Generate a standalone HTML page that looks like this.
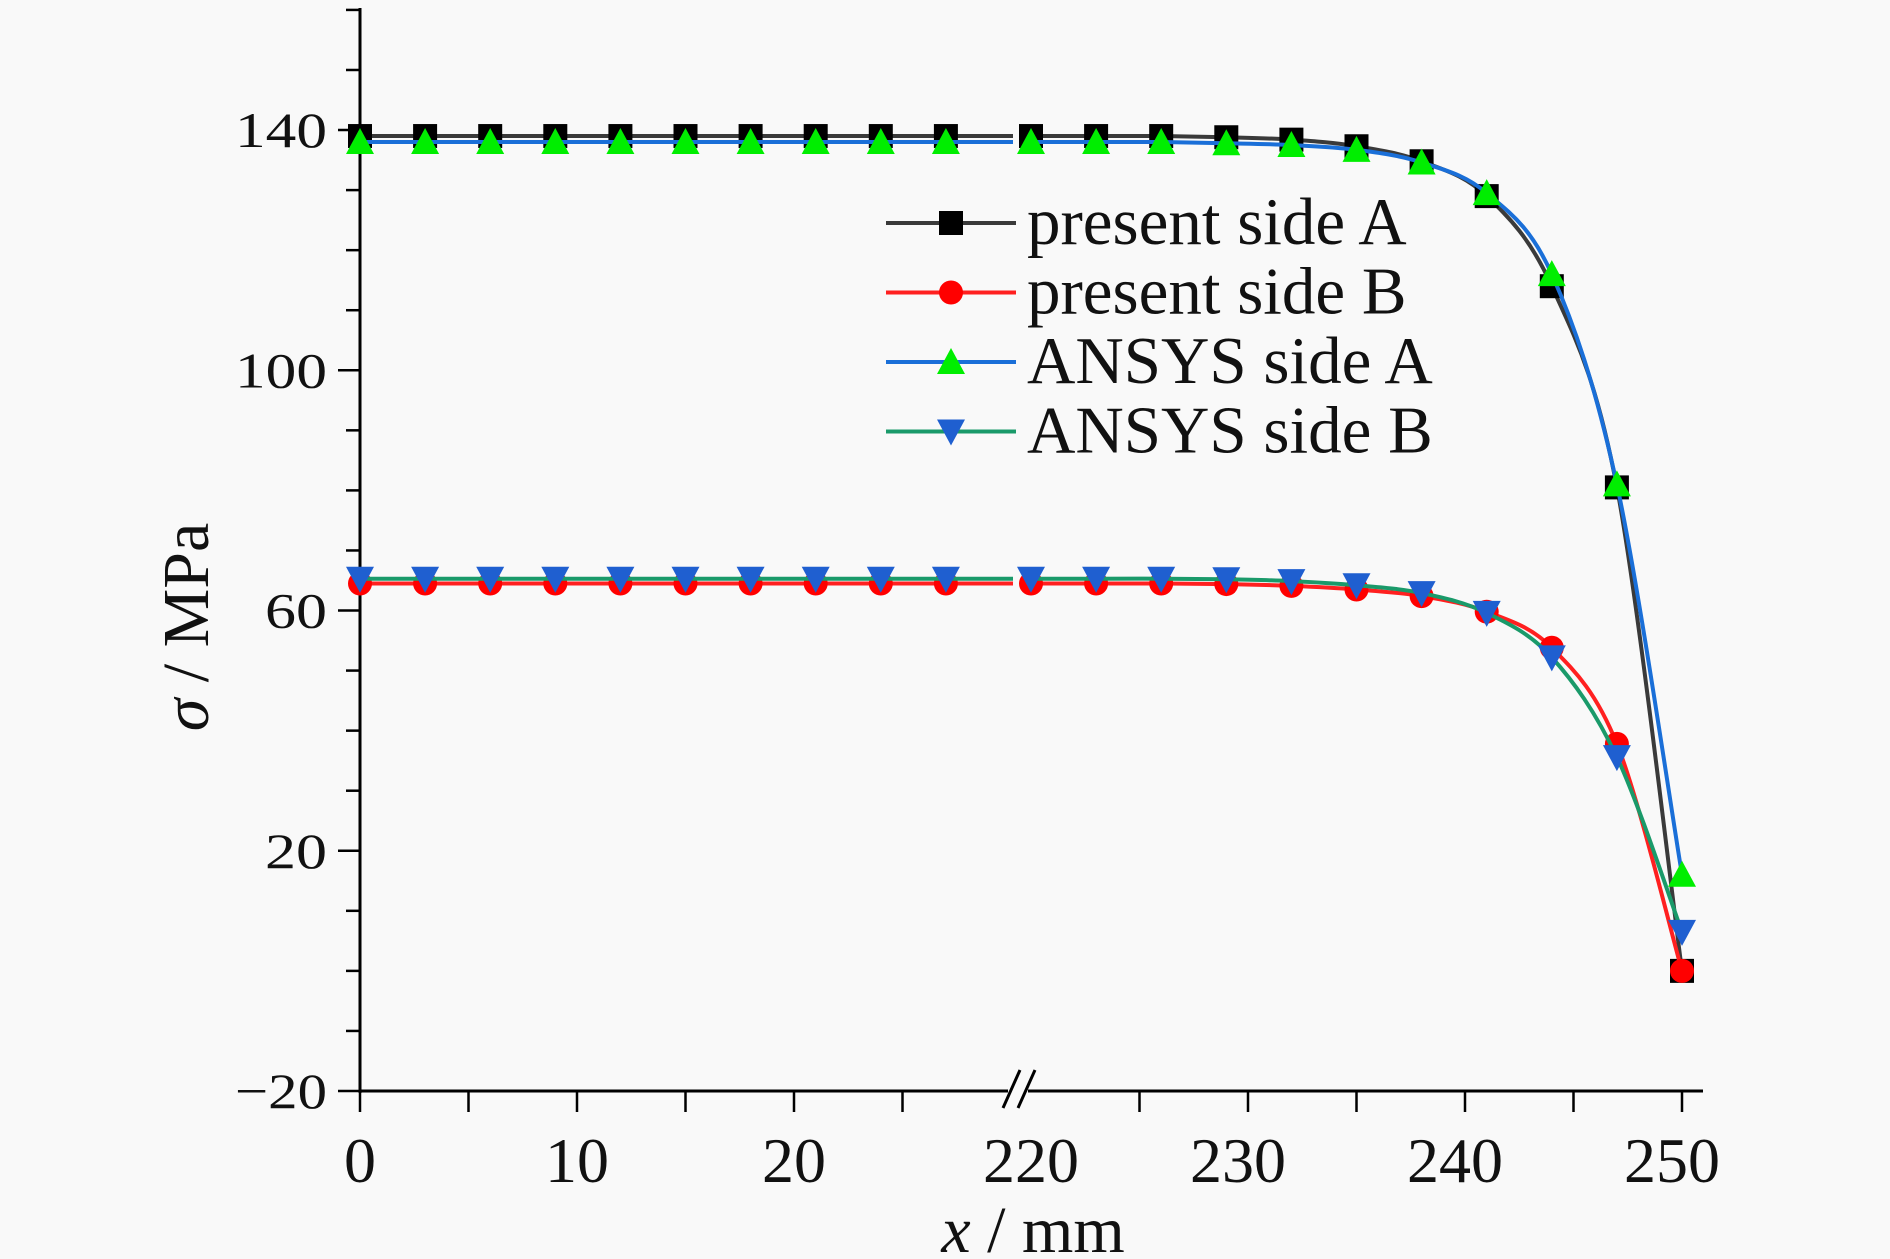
<!DOCTYPE html>
<html><head><meta charset="utf-8"><style>
html,body{margin:0;padding:0;background:#f9f9f9;}
svg{display:block;font-family:"Liberation Serif",serif;}
</style></head><body>
<svg id="chart" width="1890" height="1259" viewBox="0 0 1890 1259" xmlns="http://www.w3.org/2000/svg">
<rect width="1890" height="1259" fill="#f9f9f9"/>
<g id="axes"></g>
<g id="series"></g>
<g id="legend"></g>
</svg>
<script>
const xLeft = [0,3,6,9,12,15,18,21,24,27];
const xRight = [220,223,226,229,232,235,238,241,244,247,250];
const presentA_L = [139,139,139,139,139,139,139,139,139,139];
const presentA_R = [139,139,139,138.8,138.4,137.3,134.8,129,114,80.5,0];
const presentB_L = [64.5,64.5,64.5,64.5,64.5,64.5,64.5,64.5,64.5,64.5];
const presentB_R = [64.5,64.5,64.5,64.4,64.1,63.5,62.4,59.8,53.8,37.8,0];
const ansysA_L = [138,138,138,138,138,138,138,138,138,138];
const ansysA_R = [138,138,138,137.8,137.5,136.7,134.6,129.5,116,81,16];
const ansysB_L = [65.3,65.3,65.3,65.3,65.3,65.3,65.3,65.3,65.3,65.3];
const ansysB_R = [65.3,65.3,65.3,65.2,64.9,64.2,62.9,59.6,52.2,35.6,6.5];
const yTicks = [-20,20,60,100,140];
const xTickLabelsL = [0,10,20];
const xTickLabelsR = [220,230,240,250];

const NS="http://www.w3.org/2000/svg";
const PX=21.7;
function sx(v){return v<=100 ? 360+v*PX : 1031+(v-220)*PX;}
function sy(v){return 1091-(v+20)*6.006;}
function mk(tag,attrs,parent){const e=document.createElementNS(NS,tag);for(const k in attrs)e.setAttribute(k,attrs[k]);parent.appendChild(e);return e;}
const axes=document.getElementById('axes'), series=document.getElementById('series'), legend=document.getElementById('legend');

let a=mk('line',{x1:360,y1:8,x2:360,y2:1093,stroke:'#000','stroke-width':3},axes);


a=mk('line',{x1:360,y1:1091,x2:1008,y2:1091,stroke:'#000','stroke-width':3},axes);


a=mk('line',{x1:1028,y1:1091,x2:1703,y2:1091,stroke:'#000','stroke-width':3},axes);


a=mk('path',{d:'M1003,1108 L1020,1070 M1018,1108 L1035,1070',stroke:'#000','stroke-width':3,fill:'none'},axes);


for(let v=-20;v<=160;v+=10){
  const major=(v+20)%40===0;
  const t=mk('line',{x1:major?338:346,y1:sy(v),x2:360,y2:sy(v),stroke:'#000','stroke-width':2.5},axes);
  
  
}
yTicks.forEach(v=>{
  const t=mk('text',{x:327,y:sy(v)+17,'text-anchor':'end','font-size':50,fill:'#111',textLength:(String(v).length>2?92:62),lengthAdjust:'spacingAndGlyphs'},axes);
  t.textContent=v<0?'\u2212'+Math.abs(v):String(v);
  
  
});
[0,5,10,15,20,25].forEach(v=>{
  const t=mk('line',{x1:sx(v),y1:1091,x2:sx(v),y2:1112,stroke:'#000','stroke-width':2.5},axes);
  
  
});
[225,230,235,240,245,250].forEach(v=>{
  const t=mk('line',{x1:sx(v),y1:1091,x2:sx(v),y2:1112,stroke:'#000','stroke-width':2.5},axes);
  
  
});
xTickLabelsL.concat(xTickLabelsR).forEach(v=>{
  const off = v>=230 ? -10 : 0;
  const t=mk('text',{x:sx(v)+off,y:1182,'text-anchor':'middle','font-size':64,fill:'#111'},axes);
  t.textContent=String(v);
  
  
});
let tt=mk('text',{x:1033,y:1252,'text-anchor':'middle','font-size':66,fill:'#111'},axes);
tt.innerHTML='<tspan font-style="italic">x</tspan> / mm';


tt=mk('text',{x:0,y:0,'text-anchor':'middle','font-size':66,fill:'#111',transform:'translate(208,627) rotate(-90)'},axes);
tt.innerHTML='<tspan font-style="italic">σ</tspan> / MPa';



function spline(pts){
  let d='M'+pts[0][0]+','+pts[0][1];
  for(let i=0;i<pts.length-1;i++){
    const p0=pts[Math.max(0,i-1)],p1=pts[i],p2=pts[i+1],p3=pts[Math.min(pts.length-1,i+2)];
    const c1=[p1[0]+(p2[0]-p0[0])/6,p1[1]+(p2[1]-p0[1])/6];
    const c2=[p2[0]-(p3[0]-p1[0])/6,p2[1]-(p3[1]-p1[1])/6];
    d+=' C'+c1[0]+','+c1[1]+' '+c2[0]+','+c2[1]+' '+p2[0]+','+p2[1];
  }
  return d;
}
function marker(type,x,y,color,parent){
  const s=12;let e;
  if(type==='square') e=mk('rect',{x:x-s,y:y-s,width:2*s,height:2*s,fill:color},parent);
  else if(type==='circle') e=mk('circle',{cx:x,cy:y,r:s,fill:color},parent);
  else if(type==='up') e=mk('polygon',{points:`${x},${y-s-2} ${x+s+2},${y+s} ${x-s-2},${y+s}`,fill:color},parent);
  else e=mk('polygon',{points:`${x-s-2},${y-s} ${x+s+2},${y-s} ${x},${y+s+2}`,fill:color},parent);
  return e;
}
const defs=[
 {name:'present-side-a',L:presentA_L,R:presentA_R,line:'#3a3a3a',mark:'#000',type:'square',label:'present side A'},
 {name:'present-side-b',L:presentB_L,R:presentB_R,line:'#ff2020',mark:'#ff0000',type:'circle',label:'present side B'},
 {name:'ansys-side-a',L:ansysA_L,R:ansysA_R,line:'#1a6fd8',mark:'#00ee00',type:'up',label:'ANSYS side A'},
 {name:'ansys-side-b',L:ansysB_L,R:ansysB_R,line:'#1a9a6a',mark:'#1f5fd0',type:'down',label:'ANSYS side B'}
];
defs.forEach((d,k)=>{
  const g=mk('g',{},series);
  
  
  let l=mk('line',{x1:sx(xLeft[0]),y1:sy(d.L[0]),x2:1013,y2:sy(d.L[d.L.length-1]),stroke:d.line,'stroke-width':4},g);
  
  
  const pts=xRight.map((x,i)=>[sx(x),sy(d.R[i])]);
  pts.unshift([1034,sy(d.R[0])]);
  l=mk('path',{d:spline(pts),stroke:d.line,'stroke-width':4,fill:'none'},g);
  
  
  xLeft.forEach((x,i)=>{const m=marker(d.type,sx(x),sy(d.L[i]),d.mark,g);
    
    });
  xRight.forEach((x,i)=>{const m=marker(d.type,sx(x),sy(d.R[i]),d.mark,g);
    
    });
  const ly=223+k*69.5;
  const lg=mk('g',{},legend);
  
  
  mk('line',{x1:886,y1:ly,x2:1016,y2:ly,stroke:d.line,'stroke-width':4},lg);
  marker(d.type,951,ly,d.mark,lg);
  const t=mk('text',{x:1027,y:ly+21,'font-size':67,fill:'#111'},lg);
  t.textContent=d.label;
});
</script>
</body></html>
